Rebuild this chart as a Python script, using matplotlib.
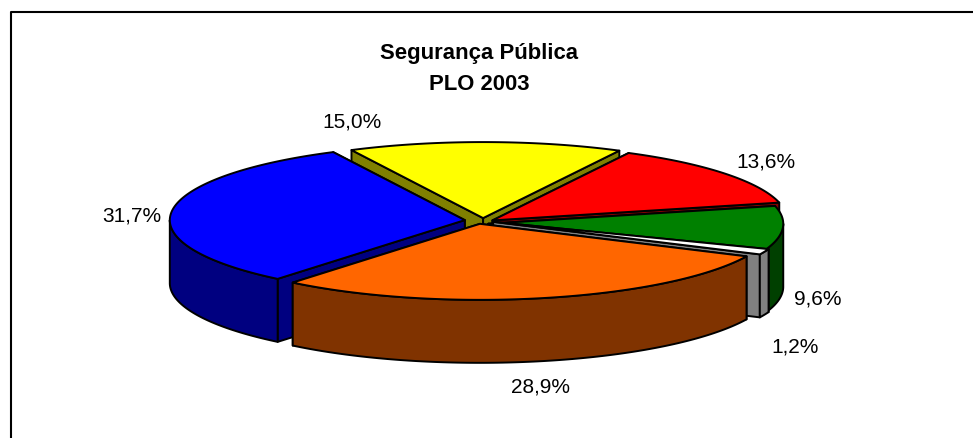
import numpy as np
import matplotlib
matplotlib.use('Agg')
import matplotlib.pyplot as plt
from matplotlib.patches import Polygon

plt.rcParams['font.family'] = ['Liberation Sans', 'DejaVu Sans']

# slices, clockwise from the first angle
names = ['Amarelo', 'Vermelho', 'Verde', 'Branco', 'Laranja', 'Azul']
values = [15.0, 13.6, 9.6, 1.2, 28.9, 31.7]
labels = ['15,0%', '13,6%', '9,6%', '1,2%', '28,9%', '31,7%']
tops = ['#ffff00', '#ff0000', '#008000', '#ffffff', '#ff6600', '#0000ff']
sides = ['#808000', '#800000', '#004000', '#808080', '#803300', '#000080']

title = 'Segurança Pública\nPLO 2003'

# pie geometry in pixels
cx, cy = 479.0, 221.5
rx, ry = 295.0, 76.0
depth = 63.0
explode = 0.045
start = 116.5
# small per-slice shifts to sit where the source slices sit
nudge = [(4, 1), (3, 2), (-4, 3), (2, 0), (-2, 0), (-1, 0)]
# back slices first, front last
order = [0, 1, 5, 2, 3, 4]
label_xy = [(352, 122), (766, 162), (818, 299), (795, 347), (541, 387), (132, 216)]


def arc_pts(x0, y0, a1, a2):
    t = np.radians(np.linspace(a1, a2, 120))
    return np.column_stack([x0 + rx * np.cos(t), y0 - ry * np.sin(t)])


fig = plt.figure(figsize=(9.73, 4.39), dpi=100)
ax = fig.add_axes([0, 0, 1, 1])
ax.set_xlim(0, 973)
ax.set_ylim(439, 0)
ax.axis('off')

# chart frame, open at right and bottom like the source image
ax.plot([11, 11, 973], [439, 13, 13], color='black', lw=1.5, solid_capstyle='butt')

edges = start - np.cumsum([0] + values) * 3.6
lw = 1.4
for i in order:
    a1, a2 = edges[i], edges[i + 1]
    mid = np.radians((a1 + a2) / 2)
    x0 = cx + explode * rx * np.cos(mid) + nudge[i][0]
    y0 = cy - explode * ry * np.sin(mid) + nudge[i][1]
    arc = arc_pts(x0, y0, a1, a2)
    apex = np.array([x0, y0])
    down = np.array([0, depth])
    # cut faces, the one further back goes first
    for p in sorted((arc[0], arc[-1]), key=lambda q: q[1]):
        quad = np.array([apex, p, p + down, apex + down])
        ax.add_patch(Polygon(quad, closed=True, fc=sides[i], ec='black', lw=lw, joinstyle='round'))
    # outer wall, only the part that faces the viewer
    hi, lo = min(a1, 0), max(a2, -180)
    if hi > lo:
        wall = arc_pts(x0, y0, hi, lo)
        poly = np.vstack([wall, (wall + down)[::-1]])
        ax.add_patch(Polygon(poly, closed=True, fc=sides[i], ec='black', lw=lw, joinstyle='round'))
    # top face
    ax.add_patch(Polygon(np.vstack([apex, arc]), closed=True, fc=tops[i], ec='black', lw=lw, joinstyle='round'))

ax.text(479, 69, title, ha='center', va='center', fontsize=15.9, fontweight='bold',
        color='black', linespacing=1.68)
for txt, (x, y) in zip(labels, label_xy):
    ax.text(x, y, txt, ha='center', va='center', fontsize=15, color='black')

fig.savefig('out.png', dpi=100, facecolor='white')
